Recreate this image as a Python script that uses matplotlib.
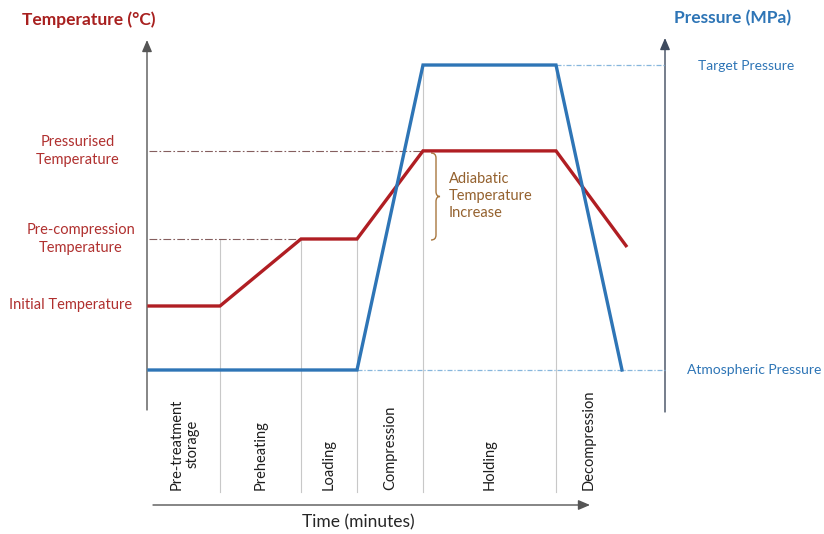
import matplotlib
matplotlib.use("Agg")
import matplotlib.pyplot as plt
from matplotlib.transforms import Affine2D
from matplotlib.path import Path
from matplotlib.patches import PathPatch

plt.rcParams['font.family'] = ['Lato', 'DejaVu Sans']

# ---- process data -------------------------------------------------------
phase_names = ["Pre-treatment\nstorage", "Preheating", "Loading",
               "Compression", "Holding", "Decompression"]
phase_edges = [0, 7.1, 15.2, 20.8, 27.4, 40.7, 47.3]   # minutes

temp_time = [0, 7.1, 15.2, 20.8, 27.4, 40.7, 47.7]      # minutes
temp_vals = [20, 20, 40, 40, 66.3, 66.3, 38]             # deg C

press_time = [0, 20.8, 27.4, 40.7, 47.3]                 # minutes
press_vals = [0.1, 0.1, 600, 600, 0.1]                   # MPa

initial_temp, precomp_temp, pressurised_temp = 20, 40, 66.3
atm_pressure, target_pressure = 0.1, 600

# ---- colours --------------------------------------------------------------
RED = "#B01E23"
RED_TXT = "#B0302F"
BLUE = "#2E75B6"
BLUE_LIGHT = "#86B6DC"
BROWN = "#A8773F"
BROWN_TXT = "#94612E"

W, H = 824, 534
fig = plt.figure(figsize=(W / 100, H / 100), dpi=100)
ax = fig.add_axes([0, 0, 1, 1])
ax.set_xlim(-14.9, 67.5)
ax.set_ylim(-48.06, 111.34)
ax.axis("off")
axp = ax.twinx()
axp.set_ylim(-322.5, 727.9)
axp.axis("off")

# pixel-style transform for layout items (origin top-left)
pix = Affine2D().scale(1 / W, -1 / H).translate(0, 1) + fig.transFigure


def temp_at_px(y):
    lo, hi = ax.get_ylim()
    return lo + (1 - y / H) * (hi - lo)


# ---- reference lines ------------------------------------------------------
ax.plot([0, temp_time[4]], [pressurised_temp] * 2, color="#855E5E",
        lw=0.8, ls=(0, (7, 2, 1.5, 2)), zorder=1)
ax.plot([0, temp_time[2]], [precomp_temp] * 2, color="#855E5E",
        lw=0.8, ls=(0, (7, 2, 1.5, 2)), zorder=1)
right_axis_t = 51.6
axp.plot([press_time[3], right_axis_t], [target_pressure] * 2,
         color=BLUE_LIGHT, lw=0.9, ls=(0, (4, 1.5, 1, 1.5)), zorder=1)
axp.plot([press_time[1], right_axis_t], [atm_pressure] * 2,
         color=BLUE_LIGHT, lw=0.9, ls=(0, (4, 1.5, 1, 1.5)), zorder=1)

# ---- phase boundaries -----------------------------------------------------
bottom_T = temp_at_px(492)
for t in phase_edges[1:4]:
    ax.plot([t, t], [precomp_temp, bottom_T], color="#C8C8C8", lw=0.8, zorder=0)
plo, phi = axp.get_ylim()
for t in phase_edges[4:6]:
    # top at the target-pressure level
    top_T = temp_at_px(H * (1 - (target_pressure - plo) / (phi - plo)))
    ax.plot([t, t], [top_T, bottom_T], color="#C8C8C8", lw=0.8, zorder=0)

# ---- profiles -------------------------------------------------------------
axp.plot(press_time, press_vals, color=BLUE, lw=2.4, zorder=3,
         solid_joinstyle="miter")
ax.plot(temp_time, temp_vals, color=RED, lw=2.4, zorder=4,
        solid_joinstyle="miter")

# ---- axis arrows ----------------------------------------------------------
ax.annotate("", xy=(147, 40), xytext=(147, 410), xycoords=pix, textcoords=pix,
            arrowprops=dict(arrowstyle="-|>,head_length=0.7,head_width=0.3",
                            color="#555555", lw=1.0, shrinkA=0, shrinkB=0))
ax.annotate("", xy=(665, 38), xytext=(665, 412), xycoords=pix, textcoords=pix,
            arrowprops=dict(arrowstyle="-|>,head_length=0.7,head_width=0.3",
                            color="#3E4A5E", lw=1.0, shrinkA=0, shrinkB=0))
ax.annotate("", xy=(590, 505), xytext=(153, 505), xycoords=pix, textcoords=pix,
            arrowprops=dict(arrowstyle="-|>,head_length=0.7,head_width=0.3",
                            color="#555555", lw=1.0, shrinkA=0, shrinkB=0))

# ---- titles ---------------------------------------------------------------
ax.text(89, 20, "Temperature (°C)", transform=pix, ha="center", va="center",
        fontsize=12.5, fontweight="bold", color="#A8201F")
ax.text(733, 18, "Pressure (MPa)", transform=pix, ha="center", va="center",
        fontsize=12.5, fontweight="bold", color=BLUE)
ax.text(358, 522, "Time (minutes)", transform=pix, ha="center", va="center",
        fontsize=12.5, color="#262626")

# ---- level labels ---------------------------------------------------------
ax.text(78, 151, "Pressurised\nTemperature", transform=pix, ha="center",
        va="center", fontsize=10.5, color=RED_TXT, linespacing=1.3)
ax.text(81, 239, "Pre-compression\nTemperature", transform=pix, ha="center",
        va="center", fontsize=10.5, color=RED_TXT, linespacing=1.3)
ax.text(71, 305, "Initial Temperature", transform=pix, ha="center",
        va="center", fontsize=10.5, color=RED_TXT)
ax.text(746, 66, "Target Pressure", transform=pix, ha="center",
        va="center", fontsize=10, color=BLUE)
ax.text(754, 370, "Atmospheric Pressure", transform=pix, ha="center",
        va="center", fontsize=10, color=BLUE)

# ---- phase labels ---------------------------------------------------------
label_base = temp_at_px(490)
for name, a, b in zip(phase_names, phase_edges[:-1], phase_edges[1:]):
    ax.text((a + b) / 2, label_base, name, rotation=90, ha="center",
            va="bottom", fontsize=10.5, color="#1E1E1E", linespacing=1.2,
            multialignment="center")

# ---- adiabatic brace ------------------------------------------------------
xt, y0, y1 = 431, 153, 240
ym = (y0 + y1) / 2
xb, xp = 436, 440
verts = [(xt, y0), (xb, y0), (xb, y0 + 5),
         (xb, ym - 5),
         (xb, ym), (xp, ym),
         (xb, ym), (xb, ym + 5),
         (xb, y1 - 5),
         (xb, y1), (xt, y1)]
codes = [Path.MOVETO, Path.CURVE3, Path.CURVE3,
         Path.LINETO,
         Path.CURVE3, Path.CURVE3,
         Path.CURVE3, Path.CURVE3,
         Path.LINETO,
         Path.CURVE3, Path.CURVE3]
ax.add_patch(PathPatch(Path(verts, codes), transform=pix, fill=False,
                       edgecolor=BROWN, lw=1.0))
ax.text(449, 196, "Adiabatic\nTemperature\nIncrease", transform=pix,
        ha="left", va="center", fontsize=10.5, color=BROWN_TXT, linespacing=1.25)

fig.savefig("out.png", dpi=100)
